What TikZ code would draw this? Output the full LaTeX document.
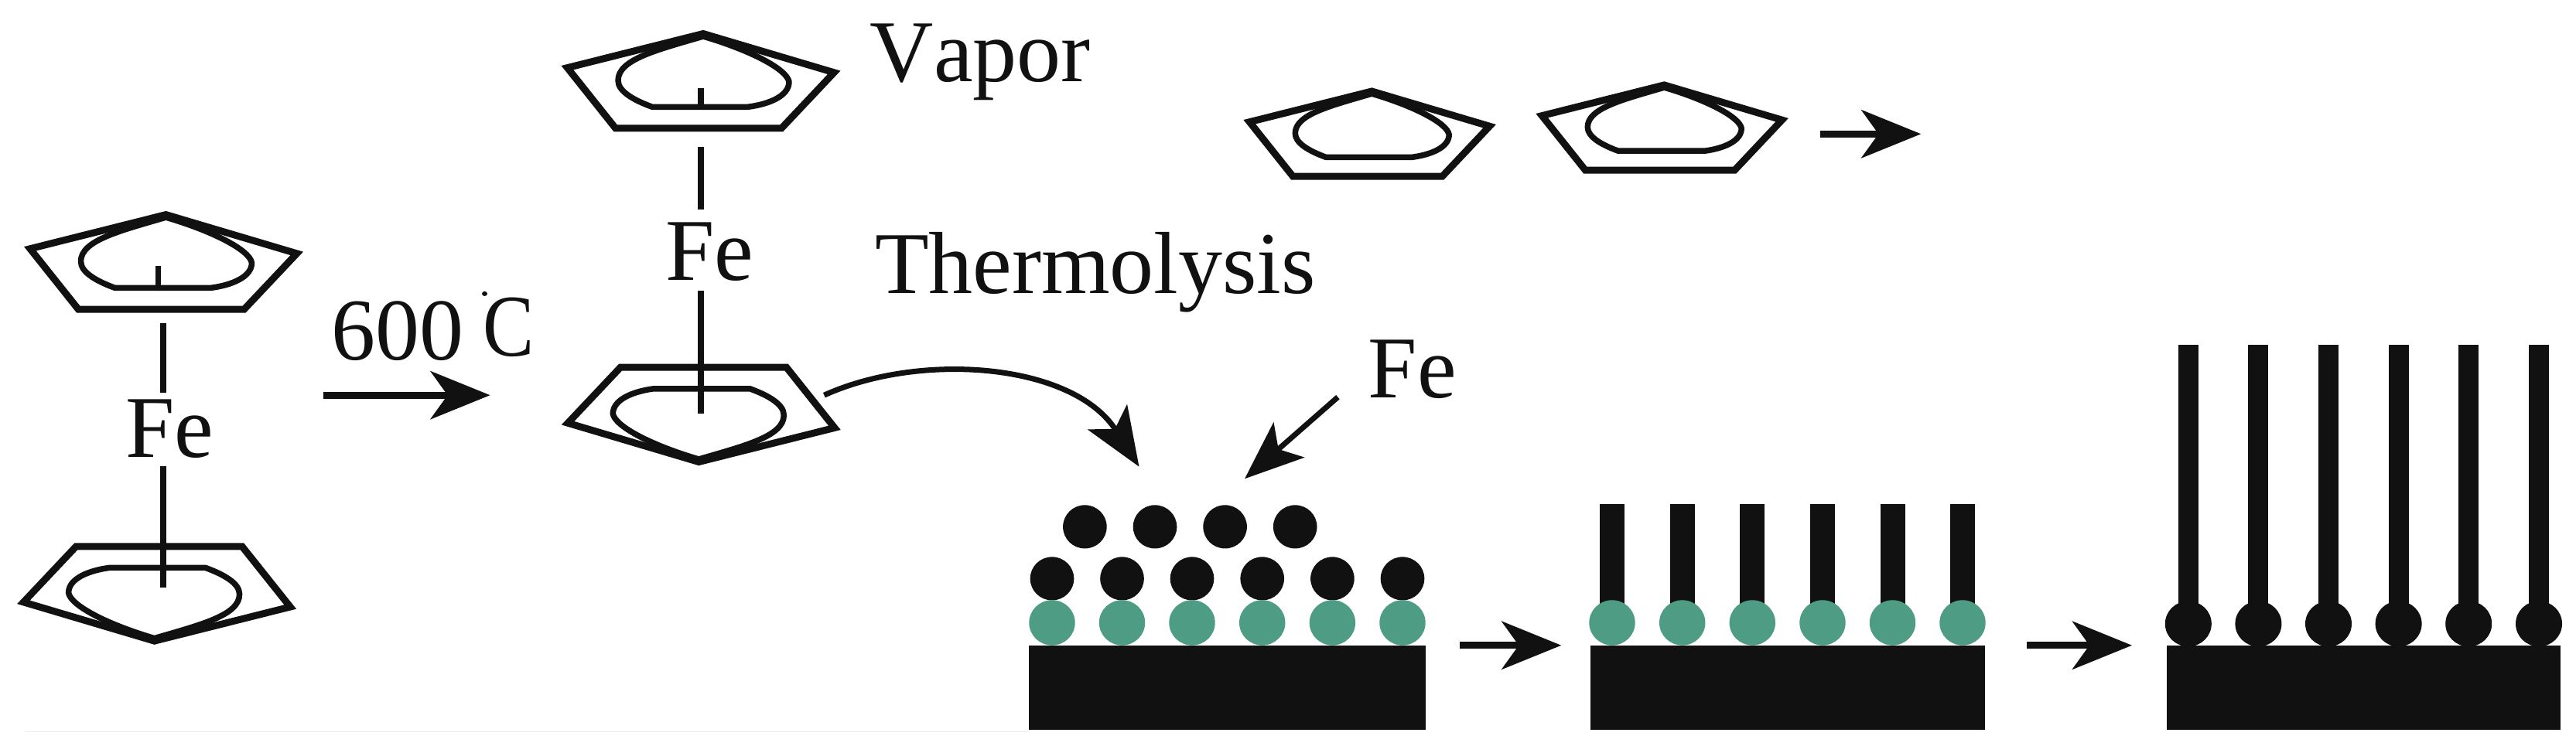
\documentclass[tikz,border=0pt]{standalone}
\usepackage{fontspec}
\setmainfont{Liberation Serif}
\usetikzlibrary{arrows.meta}
\definecolor{ink}{HTML}{111111}
\definecolor{seed}{HTML}{4F9C85}
\tikzset{
  x=1pt,y=-0.8774pt,
  outerring/.style={draw=ink,line width=9pt,miter limit=10,line join=miter},
  innerring/.style={draw=ink,line width=7.5pt,line join=round},
  bond/.style={draw=ink,line width=7.5pt},
  label/.style={text=ink,font=\fontsize{114}{114}\selectfont,anchor=base,inner sep=0pt,outer sep=0pt},
  labelw/.style={label,anchor=base west},
  bigarrow/.style={draw=ink,line width=9pt,-{Stealth[length=77pt,width=62pt,inset=22pt]}},
  thinarrow/.style={draw=ink,line width=7pt,-{Stealth[length=76pt,width=60pt,inset=18pt]}},
  pics/ring/.style={code={
    \path[outerring] (-175.6,50.3) -- (0,0) -- (169.2,57.3) -- (101.2,139.5) -- (-113.3,139.5) -- cycle;
    \path[innerring] (-66,108) -- (58,108) .. controls (85,104) and (111,92) .. (111,71)
      .. controls (108,52) and (60,24) .. (0,4) .. controls (-60,24) and (-110,38) .. (-110,69)
      .. controls (-110,85) and (-90,98) .. (-66,108) -- cycle;
  }},
  substrate/.style={fill=ink,draw=none},
  seeddot/.style={fill=seed,draw=none},
  metaldot/.style={fill=ink,draw=none},
}
\begin{document}
\begin{tikzpicture}
\useasboundingbox (0,0) rectangle (3330,1110.1);
\fill[white] (0,0) rectangle (3330,1110.1);
\draw[color=black!7,line width=1.5pt] (32,1079) -- (1330,1079);

% rings
\pic at (214.5,316.4) {ring};
\pic[rotate=180] at (199.6,945) {ring};
\pic at (909,49.6) {ring};
\pic[rotate=180] at (903.3,681) {ring};
\pic[scale=.9] at (1773.3,134.5) {ring};
\pic[scale=.9] at (2151.3,125.3) {ring};

% left ferrocene
\node[label] (feA) at (219.5,674) {Fe};
\coordinate (a1) at (204.6,391.5); \coordinate (a2) at (204.6,425);
\coordinate (a3) at (211,476.4);   \coordinate (a4) at (211,579);
\coordinate (a5) at (211,686.7);   \coordinate (a6) at (211,865.8);
\draw[bond] (a1) -- (a2);
\draw[bond] (a3) -- (a4);
\draw[bond] (a5) -- (a6);

% vapor ferrocene
\node[label] (feB) at (917.6,412.7) {Fe};
\coordinate (b1) at (906,129.5); \coordinate (b2) at (906,159);
\coordinate (b3) at (906,217);   \coordinate (b4) at (906,308.6);
\coordinate (b5) at (906,428);   \coordinate (b6) at (906,610);
\draw[bond] (b1) -- (b2);
\draw[bond] (b3) -- (b4);
\draw[bond] (b5) -- (b6);

% labels
\node[labelw] (temp) at (428,531) {600\kern 25pt\raisebox{5pt}{\scalebox{.87}[1]{C}}};
\fill[ink] (626.5,433) circle (3.5);
\node[labelw] (vapor) at (1124,120) {V\kern 1pt apor};
\node[labelw] (thermo) at (1131,433) {Thermolysis};
\node[label] (feC) at (1825.7,586) {Fe};

% arrows
\coordinate (h1s) at (417.7,582.6); \coordinate (h1e) at (633.6,582.6);
\draw[bigarrow] (h1s) -- (h1e);
\coordinate (h2s) at (2353,197.5); \coordinate (h2e) at (2483.3,197.5);
\draw[bigarrow] (h2s) -- (h2e);
\coordinate (h3s) at (1886.6,951.4); \coordinate (h3e) at (2018.3,951.4);
\draw[bigarrow] (h3s) -- (h3e);
\coordinate (h4s) at (2620,951.4); \coordinate (h4e) at (2756,951.4);
\draw[bigarrow] (h4s) -- (h4e);
\coordinate (cs) at (1065.4,582.6); \coordinate (ce) at (1472.5,688);
\draw[thinarrow] (cs) .. controls (1190,518) and (1387,535) .. (ce);
\coordinate (fs) at (1729.4,585.4); \coordinate (fe) at (1609,705.8);
\draw[thinarrow] (fs) -- (fe);

% substrate 1
\fill[substrate] (1330,951.4) rectangle (1842.7,1076);
\foreach \x in {1360,1450.5,1541,1631.7,1722.4,1813}{
  \fill[metaldot] (\x,853) ellipse [x radius=28.3,y radius=32];
  \fill[seeddot] (\x,918) ellipse [x radius=29.7,y radius=33.3];
}
\foreach \x in {1402.4,1493,1583.6,1674.2}
  \fill[metaldot] (\x,776.6) ellipse [x radius=28.3,y radius=32];

% substrate 2
\fill[substrate] (2055.8,951.4) rectangle (2565.5,1076);
\foreach \x in {2084,2174.7,2265.3,2356,2446.5,2537}{
  \fill[metaldot] (\x-16,743.3) rectangle (\x+16,900);
  \fill[seeddot] (\x,918) ellipse [x radius=29.7,y radius=33.3];
}

% substrate 3
\fill[substrate] (2801,951.4) rectangle (3310,1076);
\foreach \x in {2828.8,2919.4,3010,3100.6,3191.2,3282}{
  \fill[metaldot] (\x-13,508.3) rectangle (\x+13,900);
  \fill[metaldot] (\x,919.6) ellipse [x radius=30,y radius=33.5];
}
\end{tikzpicture}
\end{document}
